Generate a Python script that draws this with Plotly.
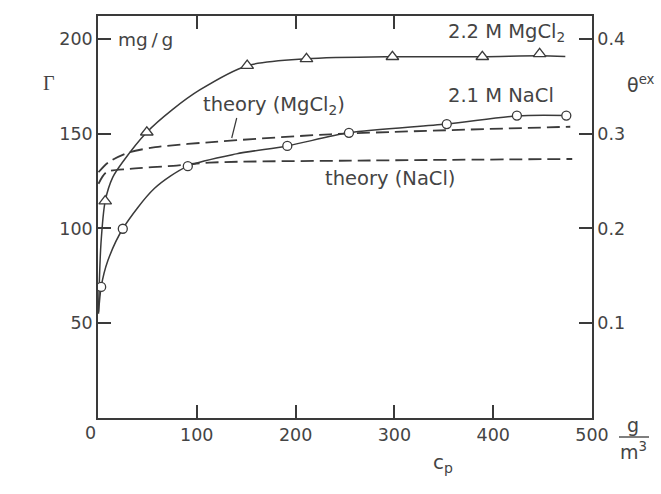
import plotly.graph_objects as go

# ---------------- data ----------------
# measured points, Gamma in mg/g, c_p in g/m^3
mgcl2_c = [7.3, 49.4, 151, 211, 298, 389, 447]
mgcl2_g = [114.4, 150.7, 185.8, 189.4, 190.5, 190.5, 192.0]
nacl_c = [3.2, 25.1, 90.9, 191.6, 254, 353, 424, 474]
nacl_g = [69.1, 99.8, 132.8, 143.5, 150.4, 155.0, 159.5, 159.5]

# drawn (fitted) solid curves
mgcl2_fit_c = [0.5, 3, 7.3, 15, 25, 49.4, 75, 103, 151, 211, 298, 389, 447, 473]
mgcl2_fit_g = [56, 92, 114.4, 127, 135, 150.7, 162.5, 173, 185.8, 189.4, 190.5, 190.5, 191.0, 190.6]
nacl_fit_c = [0.5, 3.2, 10, 25.1, 57, 90.9, 140, 191.6, 254, 353, 424, 474]
nacl_fit_g = [55, 69.1, 83, 99.8, 121, 132.8, 139.3, 143.5, 150.4, 155.0, 159.3, 159.5]

# theory dashed curves
th_mg_c = [0.5, 11, 31, 58, 112, 235, 478]
th_mg_g = [129.6, 135, 140, 142.8, 145.4, 149.6, 153.6]
th_na_c = [0.5, 8.5, 32, 76, 113, 275, 480]
th_na_g = [123.5, 129.6, 131.4, 133.0, 134.7, 135.8, 136.6]

x_ticks = [0, 100, 200, 300, 400, 500]
x_tick_text = ["", "100", "200", "300", "400", "500"]
x_top_ticks = [100, 200, 300]
y_ticks = [50, 100, 150, 200]
theta_ticks = [0.1, 0.2, 0.3, 0.4]
theta_labels = ["0.1", "0.2", "0.3", "0.4"]

# ---------------- style ----------------
W, H = 661, 494
L, R, T, B = 98, 592, 16, 418
INK = "#3a3a3a"
TXT = "#444444"
FONT = "DejaVu Sans, Verdana, sans-serif"
Y_MAX = 212.0


def px(xp, yp):
    return (xp - L) / (R - L), (B - yp) / (B - T)


fig = go.Figure()

dash = "13px,6px"
fig.add_trace(go.Scatter(x=th_mg_c, y=th_mg_g, mode="lines", line=dict(color=INK, width=1.8, dash=dash, shape="spline", smoothing=0.8), showlegend=False))
fig.add_trace(go.Scatter(x=th_na_c, y=th_na_g, mode="lines", line=dict(color=INK, width=1.8, dash=dash, shape="spline", smoothing=0.8), showlegend=False))
fig.add_trace(go.Scatter(x=mgcl2_fit_c, y=mgcl2_fit_g, mode="lines", line=dict(color=INK, width=1.5, shape="spline", smoothing=0.8), showlegend=False))
fig.add_trace(go.Scatter(x=nacl_fit_c, y=nacl_fit_g, mode="lines", line=dict(color=INK, width=1.5, shape="spline", smoothing=0.8), showlegend=False))
fig.add_trace(go.Scatter(x=mgcl2_c, y=mgcl2_g, mode="markers", marker=dict(symbol="triangle-up", size=11, color="white", line=dict(color=INK, width=1.3)), showlegend=False, cliponaxis=False))
fig.add_trace(go.Scatter(x=nacl_c, y=nacl_g, mode="markers", marker=dict(symbol="circle", size=9, color="white", line=dict(color=INK, width=1.3)), showlegend=False, cliponaxis=False))
# invisible trace to activate secondary axes
fig.add_trace(go.Scatter(x=[None], y=[None], xaxis="x2", yaxis="y2", showlegend=False))

axis_common = dict(showline=True, linecolor=INK, linewidth=1.5, ticks="inside", ticklen=13, tickwidth=1.5,
                   tickcolor=INK, showgrid=False, zeroline=False,
                   tickfont=dict(family=FONT, size=17.5, color=TXT))

fig.update_layout(
    width=W, height=H,
    margin=dict(l=L, r=W - R, t=T, b=H - B),
    paper_bgcolor="white", plot_bgcolor="white",
    xaxis=dict(range=[0, 500], tickvals=x_ticks, ticktext=x_tick_text, **axis_common),
    xaxis2=dict(range=[0, 500], overlaying="x", side="top", tickvals=x_top_ticks, showticklabels=False,
                anchor="y", **{k: v for k, v in axis_common.items() if k != "tickfont"}),
    yaxis=dict(range=[0, Y_MAX], tickvals=y_ticks, ticktext=[str(v) for v in y_ticks], **axis_common),
    yaxis2=dict(range=[0, Y_MAX / 500], overlaying="y", side="right", tickvals=theta_ticks,
                ticktext=theta_labels, anchor="x", **axis_common),
    showlegend=False,
)

ann = []


def text(xp, yp, s, size=19.5, xanchor="center", family=FONT):
    x, y = px(xp, yp)
    ann.append(dict(x=x, y=y, xref="paper", yref="paper", text=s, showarrow=False, xanchor=xanchor,
                    yanchor="middle", font=dict(family=family, size=size, color=TXT)))


text(90, 433, "0", size=17.5)
text(116, 39, "mg\u2009/\u2009g", xanchor="left", size=18.5)
text(49, 83, "Γ", size=20, family="Liberation Serif, Times New Roman, serif")
text(625, 84, "θ<sup>ex</sup>", xanchor="left", size=19)
text(446, 33, "2.2 M MgCl<sub>2</sub>", xanchor="left")
text(446, 95, "2.1 M NaCl", xanchor="left")
text(201, 106, "theory (MgCl<sub>2</sub>)", xanchor="left")
text(323, 178, "theory (NaCl)", xanchor="left")
text(443, 463, "c<sub>p</sub>", size=20)
text(633, 425, "g", size=19)
text(633, 451, "m<sup>3</sup>", size=19)
fig.update_layout(annotations=ann)

x0, y0 = px(619, 437)
x1, y1 = px(649, 437)
lx0, ly0 = px(236.7, 118)
lx1, ly1 = px(231.7, 138)
fig.update_layout(shapes=[
    dict(type="line", xref="paper", yref="paper", x0=x0, y0=y0, x1=x1, y1=y1, line=dict(color=INK, width=1.3)),
    dict(type="line", xref="paper", yref="paper", x0=lx0, y0=ly0, x1=lx1, y1=ly1, line=dict(color=INK, width=1.2)),
])

fig.write_html("out.html")
